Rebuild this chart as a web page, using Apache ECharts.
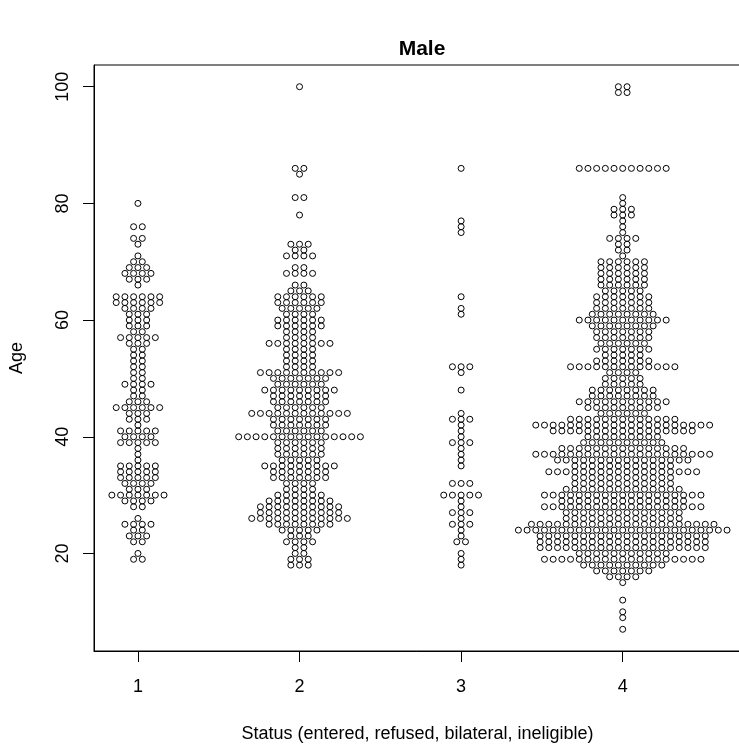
<!DOCTYPE html>
<html><head><meta charset="utf-8">
<script src="https://cdn.jsdelivr.net/npm/echarts@6/dist/echarts.min.js"></script>
<style>html,body{margin:0;padding:0;background:#fff}#c{width:739px;height:749px}</style>
</head><body><div id="c"></div>
<script>
// Status codes on the x axis and tick values
const statusCodes = [1, 2, 3, 4];
const xTickValues = [1, 2, 3, 4];
const yTickValues = [20, 40, 60, 80, 100];

// Status 1: entered  (age -> number of men with that age)
const enteredAges   = [80,76,74,73,71,70,69,68,67,66,64,63,62,61,60,59,58,57,56,55,54,53,52,51,50,49,48,47,46,45,44,43,42,41,40,39,38,37,36,35,34,33,32,31,30,29,28,26,25,24,23,22,20,19];
const enteredCounts = [ 1, 2, 2, 1, 1, 2, 3, 4, 3, 1, 6, 6, 4, 3, 3, 3, 2, 5, 3, 2, 2, 2, 2, 2, 2, 4, 2, 2, 3, 6, 3, 3, 1, 5, 4, 5, 1, 1, 1, 5, 5, 5, 4, 3, 7, 4, 2, 1, 4, 2, 3, 2, 1, 2];

// Status 2: refused
const refusedAges   = [100,86,85,81,78,73,72,71,69,68,66,65,64,63,62,61,60,59,58,57,56,55,54,53,52,51,50,49,48,47,46,45,44,43,42,41,40,39,38,37,36,35,34,33,32,31,30,29,28,27,26,25,24,23,22,21,20,19,18];
const refusedCounts = [  1, 2, 1, 2, 1, 3, 2, 4, 2, 4, 2, 3, 6, 6, 5, 4, 6, 6, 4, 4, 8, 4, 4, 4, 4,10, 7, 6, 9, 7, 7, 6,12, 7, 7, 6,15, 6, 6, 6, 5, 9, 7, 7, 4, 4, 6, 8,10,10,12, 8, 5, 3, 4, 2, 2, 3, 3];

// Status 3: bilateral
const bilateralAges   = [86,77,76,75,64,62,61,52,51,48,44,43,42,41,40,39,38,37,36,35,32,30,29,28,27,26,25,24,23,22,20,19,18];
const bilateralCounts = [ 1, 1, 1, 1, 1, 1, 1, 3, 1, 1, 1, 3, 1, 1, 1, 3, 1, 1, 1, 1, 3, 5, 1, 1, 3, 1, 3, 1, 1, 2, 1, 1, 1];

// Status 4: ineligible
const ineligibleAges   = [100,99,86,81,80,79,78,77,76,75,74,73,72,71,70,69,68,67,66,65,64,63,62,61,60,59,58,57,56,55,54,53,52,51,50,49,48,47,46,45,44,43,42,41,40,39,38,37,36,35,34,33,32,31,30,29,28,27,26,25,24,23,22,21,20,19,18,17,16,15,12,10,9,7];
const ineligibleCounts = [  2, 2,11, 1, 1, 3, 3, 1, 1, 1, 4, 2, 2, 1, 6, 6, 6, 6, 6, 5, 7, 7, 7, 8,11, 8, 7, 7, 6, 7, 5, 7,13, 4, 5, 5, 8, 8,11, 9, 6,13,21,17, 9,10,15,21,16,12,18,12,12,14,19,15,19,14,14,22,25,20,20,20,11,19,10, 7, 4, 1, 1, 1, 1, 1];

const groups = [
  [enteredAges, enteredCounts],
  [refusedAges, refusedCounts],
  [bilateralAges, bilateralCounts],
  [ineligibleAges, ineligibleCounts]
];

// beeswarm-style layout: each age forms a centred row of points
const SPACING = 0.0538; // horizontal gap between neighbours, in x-axis units
const points = [];
groups.forEach(function (g, gi) {
  const ages = g[0], counts = g[1];
  ages.forEach(function (age, k) {
    const n = counts[k];
    for (let i = 0; i < n; i++) {
      points.push([statusCodes[gi] + (i - (n - 1) / 2) * SPACING, age]);
    }
  });
});

const FONT = '"Liberation Sans", Arial, Helvetica, sans-serif';
const chart = echarts.init(document.getElementById('c'), null, {renderer: 'canvas'});
chart.setOption({
  animation: false,
  backgroundColor: '#ffffff',
  title: {
    text: 'Male',
    left: 417, top: 34,
    textAlign: 'center',
    textStyle: {fontFamily: FONT, fontWeight: 'bold', fontSize: 21, color: '#000'}
  },
  grid: {
    left: 94, right: -2, top: 65, bottom: 98,
    containLabel: false, outerBoundsMode: 'none',
    show: true, borderColor: '#000', borderWidth: 1, backgroundColor: 'rgba(0,0,0,0)'
  },
  xAxis: {
    type: 'value', min: 0.728, max: 4.732,
    name: 'Status (entered, refused, bilateral, ineligible)',
    nameLocation: 'middle', nameGap: 74,
    nameTextStyle: {fontFamily: FONT, fontSize: 18, color: '#000'},
    axisLine: {show: true, onZero: false, lineStyle: {color: '#000', width: 1}},
    axisTick: {show: true, customValues: xTickValues, length: 11, lineStyle: {color: '#000', width: 1}},
    axisLabel: {customValues: xTickValues, margin: 27, fontFamily: FONT, fontSize: 18, color: '#000'},
    splitLine: {show: false}
  },
  yAxis: {
    type: 'value', min: 3.28, max: 103.72,
    name: 'Age', nameLocation: 'middle', nameRotate: 90, nameGap: 68,
    nameTextStyle: {fontFamily: FONT, fontSize: 18, color: '#000'},
    axisLine: {show: true, onZero: false, lineStyle: {color: '#000', width: 1}},
    axisTick: {show: true, customValues: yTickValues, length: 11, lineStyle: {color: '#000', width: 1}},
    axisLabel: {customValues: yTickValues, rotate: 90, margin: 22, fontFamily: FONT, fontSize: 18, color: '#000'},
    splitLine: {show: false}
  },
  series: [{
    type: 'scatter',
    data: points,
    symbol: 'circle',
    symbolSize: 6,
    silent: true,
    progressive: 0,
    itemStyle: {color: 'rgba(0,0,0,0)', borderColor: '#000', borderWidth: 1, opacity: 1}
  }]
});
</script>
</body></html>
